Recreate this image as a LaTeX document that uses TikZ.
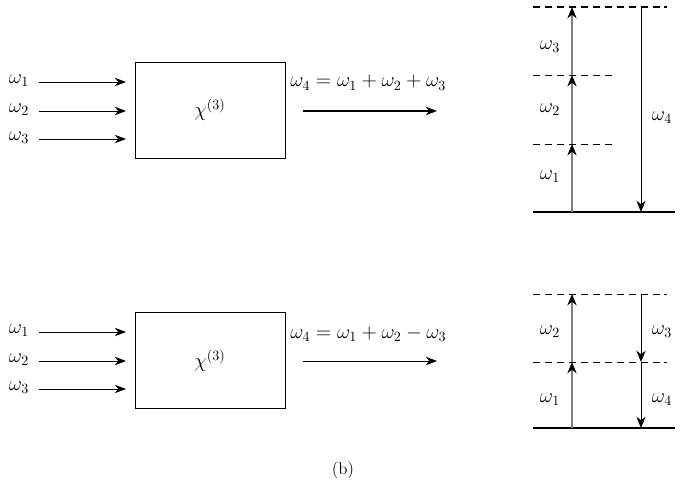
\documentclass[tikz,border=0pt]{standalone}
\usetikzlibrary{arrows.meta}
\tikzset{
  freccia/.style={-{Stealth[length=8pt,width=6pt,inset=2.5pt]},line width=0.7pt},
  scatola/.style={draw,line width=0.6pt,minimum width=3.75cm,minimum height=2.4cm,inner sep=0pt},
  livello/.style={dash pattern=on 5pt off 3.5pt,line width=0.7pt},
  salita/.style={draw=gray,line width=1.9pt,-{Stealth[length=8pt,width=6.5pt,inset=2.5pt,color=black]}},
  discesa/.style={line width=0.6pt,-{Stealth[length=8pt,width=6.5pt,inset=2.5pt]}},
  etichetta/.style={inner sep=1pt}
}
\begin{document}
\begin{tikzpicture}[x=0.025cm,y=-0.025cm,font=\Large]
  \useasboundingbox (0,0) rectangle (689,484);

  % processo somma
  \node[scatola] (boxA) at (210,110) {$\chi^{(3)}$};
  \foreach \i/\y in {1/82,2/111,3/139}{
    \node[etichetta] (wA\i) at (19,\y-1) {$\omega_{\i}$};
    \coordinate (inA\i) at (39,\y);
    \coordinate (finA\i) at (126,\y);
    \draw[freccia] (inA\i) -- (finA\i);
  }
  \coordinate (outA0) at (303,111);
  \coordinate (outA1) at (437,111);
  \draw[freccia,line width=1pt] (outA0) -- (outA1);
  \node[anchor=base west,inner sep=0pt] (fA) at (290,87)
    {$\omega_{4}=\omega_{1}+\omega_{2}+\omega_{3}$};

  % processo differenza
  \node[scatola] (boxB) at (210,360.5) {$\chi^{(3)}$};
  \foreach \i/\y in {1/332,2/361,3/389}{
    \node[etichetta] (wB\i) at (19,\y-1) {$\omega_{\i}$};
    \coordinate (inB\i) at (39,\y);
    \coordinate (finB\i) at (126,\y);
    \draw[freccia] (inB\i) -- (finB\i);
  }
  \coordinate (outB0) at (303,361);
  \coordinate (outB1) at (437,361);
  \draw[freccia] (outB0) -- (outB1);
  \node[anchor=base west,inner sep=0pt] (fB) at (290,338)
    {$\omega_{4}=\omega_{1}+\omega_{2}-\omega_{3}$};

  % livelli energetici (somma)
  \coordinate (gA) at (572,212);
  \coordinate (lA1) at (572,144);
  \coordinate (lA2) at (572,75);
  \coordinate (lA3) at (572,7);
  \coordinate (dA0) at (641,7);
  \coordinate (dA1) at (641,212);
  \draw[line width=0.9pt] (533,212) -- (675,212);
  \draw[livello] (533,144) -- (613,144);
  \draw[livello] (533,75) -- (613,75);
  \draw[livello,line width=1pt] (533,7) -- (667,7);
  \draw[salita] (gA) -- (lA1);
  \draw[salita] (lA1) -- (lA2);
  \draw[salita] (lA2) -- (lA3);
  \draw[discesa] (dA0) -- (dA1);
  \node[etichetta] (eA1) at (550,177) {$\omega_{1}$};
  \node[etichetta] (eA2) at (550,110) {$\omega_{2}$};
  \node[etichetta] (eA3) at (550,47) {$\omega_{3}$};
  \node[etichetta] (eA4) at (662,118) {$\omega_{4}$};

  % livelli energetici (differenza)
  \coordinate (gB) at (572,428);
  \coordinate (lB1) at (572,362);
  \coordinate (lB2) at (572,294);
  \coordinate (dB0) at (641,294);
  \coordinate (dB1) at (641,362);
  \coordinate (dB2) at (641,428);
  \draw[line width=1.5pt] (533,428) -- (675,428);
  \draw[livello] (533,362) -- (667,362);
  \draw[livello] (533,294) -- (667,294);
  \draw[salita] (gB) -- (lB1);
  \draw[salita] (lB1) -- (lB2);
  \draw[discesa] (dB0) -- (dB1);
  \draw[discesa] (dB1) -- (dB2);
  \node[etichetta] (eB1) at (550,400) {$\omega_{1}$};
  \node[etichetta] (eB2) at (550,332) {$\omega_{2}$};
  \node[etichetta] (eB3) at (662,332) {$\omega_{3}$};
  \node[etichetta] (eB4) at (662,400) {$\omega_{4}$};

  % didascalia
  \node[font=\large] (cap) at (343,470) {(b)};
\end{tikzpicture}
\end{document}
